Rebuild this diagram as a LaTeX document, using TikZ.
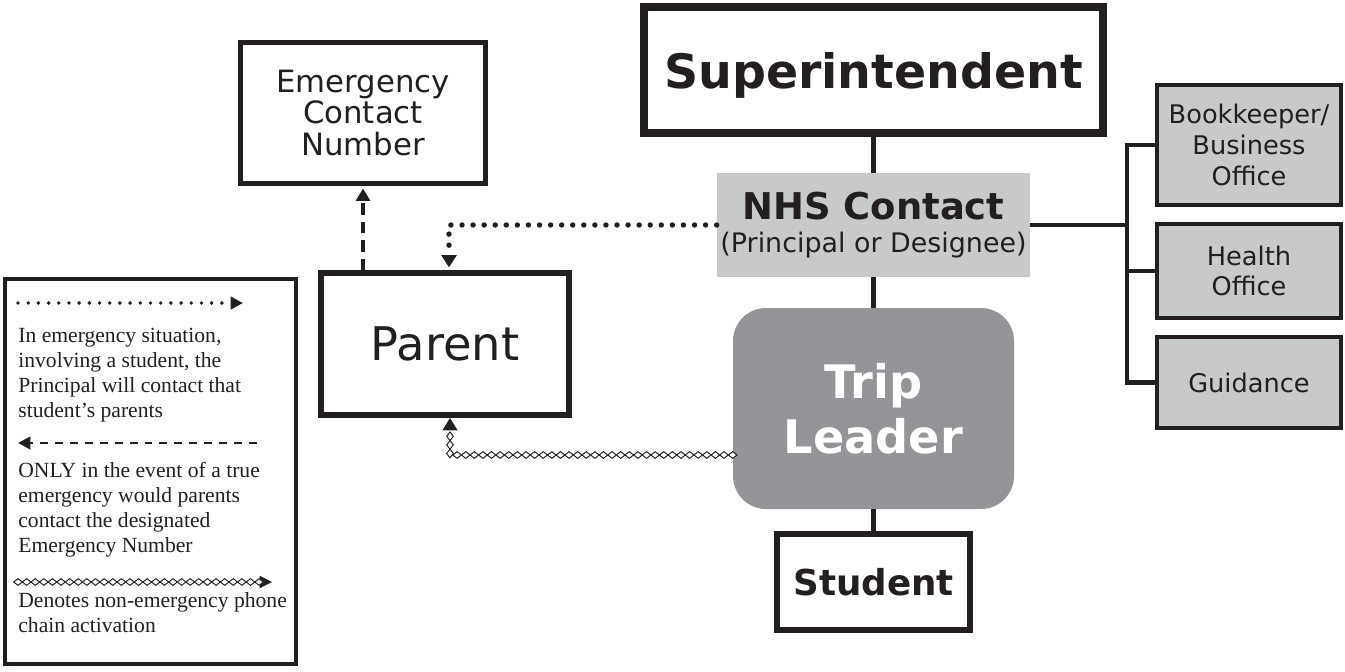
\documentclass[tikz,border=0pt]{standalone}
\usepackage{fontspec}
\setmainfont{DejaVu Sans}
\newfontfamily\legendfont{Liberation Serif}
\usetikzlibrary{arrows.meta,positioning,decorations.markings}
\definecolor{inkgray}{HTML}{231F20}
\definecolor{lightbox}{HTML}{C8C9CB}
\definecolor{leadgray}{HTML}{939598}
\tikzset{box node/.style={rectangle,draw=inkgray,fill=white,text=inkgray,inner sep=0pt,align=center},
         side node/.style={box node,fill=lightbox,line width=2.3pt,minimum width=3.68cm,font=\fontsize{14.6}{17.5}\selectfont},
         legend text/.style={rectangle,inner sep=0pt,align=left,text=inkgray,font=\legendfont\fontsize{12.3}{14.2}\selectfont},
         link edge/.style={draw=inkgray,line width=2.8pt},
         dot edge/.style={draw=inkgray,line width=3.1pt,line cap=round,dash pattern=on 0pt off 6.3pt,
                          -{Triangle[length=7pt,width=8.5pt]},shorten >=1.5pt},
         dash edge/.style={draw=inkgray,line width=2.3pt,dash pattern=on 6.5pt off 4pt,
                           -{Triangle[length=7pt,width=8pt]},shorten >=1.5pt},
         chain edge/.style={draw=white,line width=0.5pt,-{Triangle[length=7pt,width=8.5pt,color=inkgray]},
                            postaction={decorate},
                            decoration={markings,mark=between positions 0 and -7pt step 4.9pt with
                              {\draw[inkgray,fill=white,line width=0.55pt] (-2.45pt,0) -- (0,1.9pt) -- (2.45pt,0) -- (0,-1.9pt) -- cycle;}}},
}

\begin{document}
\begin{tikzpicture}

\useasboundingbox (0,0) rectangle (26.9,-13.42);
% \draw[help lines] (0,0) grid (27,-14);

% chain of command
\node[box node, line width=4.5pt, minimum width=9.18cm, minimum height=2.52cm, text depth=0pt,
      font=\bfseries\fontsize{27}{30}\selectfont] (sup) at (17.47,-1.40) {Superintendent};
\node[rectangle, fill=lightbox, text=inkgray, inner sep=0pt, align=center,
      minimum width=6.26cm, minimum height=2.08cm, font=\fontsize{15.3}{19.2}\selectfont] (nhs) at (17.47,-4.50)
      {{\bfseries\fontsize{21}{19.2}\selectfont NHS Contact}\\(Principal or Designee)};
\node[rectangle, rounded corners=0.66cm, fill=leadgray, text=white, inner sep=0pt, align=center,
      minimum width=5.62cm, minimum height=4.02cm, font=\bfseries\fontsize{26.3}{31.2}\selectfont] (trip) at (17.47,-8.17)
      {Trip\\Leader};
\node[box node, line width=3.4pt, minimum width=3.86cm, minimum height=1.92cm,
      font=\bfseries\fontsize{20.3}{24}\selectfont] (stud) at (17.47,-11.64) {Student};

\draw[link edge] (sup.south) -- (nhs.north);
\draw[link edge] (nhs.south) -- (trip.north);
\draw[link edge] (trip.south) -- (stud.north);

% offices on the right
\node[side node, minimum height=2.4cm] (bk) at (24.98,-2.90) {Bookkeeper/\\Business\\Office};
\node[side node, minimum height=1.88cm] (hlth) at (24.98,-5.42) {Health\\Office};
\node[side node, minimum height=1.82cm] (guid) at (24.98,-7.65) {Guidance};
\coordinate (busx) at (22.54,0);

\draw[link edge] (nhs.east) -- (nhs.east -| busx);
\draw[link edge] (bk.west) -| (busx |- guid.west) -- (guid.west);
\draw[link edge] (hlth.west) -- (hlth.west -| busx);

% parents side
\node[box node, line width=2.8pt, minimum width=4.9cm, minimum height=2.82cm,
      font=\fontsize{17.5}{18.2}\selectfont] (ecn) at (7.26,-2.26) {Emergency\\Contact\\Number};
\node[box node, line width=3.4pt, minimum width=4.96cm, minimum height=2.84cm,
      font=\fontsize{26.4}{30}\selectfont] (par) at (8.90,-6.88) {Parent};

\draw[dot edge] (nhs.west) -| ([xshift=0.08cm]par.north);
\draw[dash edge] (par.north -| ecn.south) -- (ecn.south);
\draw[chain edge] ([yshift=-0.93cm]trip.west) -| ([xshift=0.1cm]par.south);

% legend
\node[rectangle, draw=inkgray, line width=2.3pt, minimum width=5.82cm, minimum height=7.7cm] (legend) at (3.01,-9.43) {};

\coordinate (ldot1) at (0.36,-6.06);
\coordinate (ldot2) at (4.86,-6.06);
\draw[dot edge, line width=2.2pt, dash pattern=on 0pt off 5.8pt, -{Triangle[length=7pt,width=7pt]}, shorten >=0pt] (ldot1) -- (ldot2);
\node[legend text, anchor=north west] (legtxt1) at (0.36,-6.56)
     {In emergency situation,\\involving a student, the\\Principal will contact that\\student’s parents};

\coordinate (ldash1) at (5.14,-8.86);
\coordinate (ldash2) at (0.36,-8.86);
\draw[dash edge, line width=1.5pt, dash pattern=on 4.5pt off 4pt, -{Triangle[length=7pt,width=7pt]}, shorten >=0pt] (ldash1) -- (ldash2);
\node[legend text, anchor=north west] (legtxt2) at (0.36,-9.24)
     {ONLY in the event of a true\\emergency would parents\\contact the designated\\Emergency Number};

\coordinate (lchain1) at (0.36,-11.64);
\coordinate (lchain2) at (5.44,-11.64);
\draw[chain edge, -{Triangle[length=7pt,width=7pt,color=inkgray]}] (lchain1) -- (lchain2);
\node[legend text, anchor=north west] (legtxt3) at (0.36,-11.84)
     {Denotes non-emergency phone\\chain activation};

\end{tikzpicture}
\end{document}
